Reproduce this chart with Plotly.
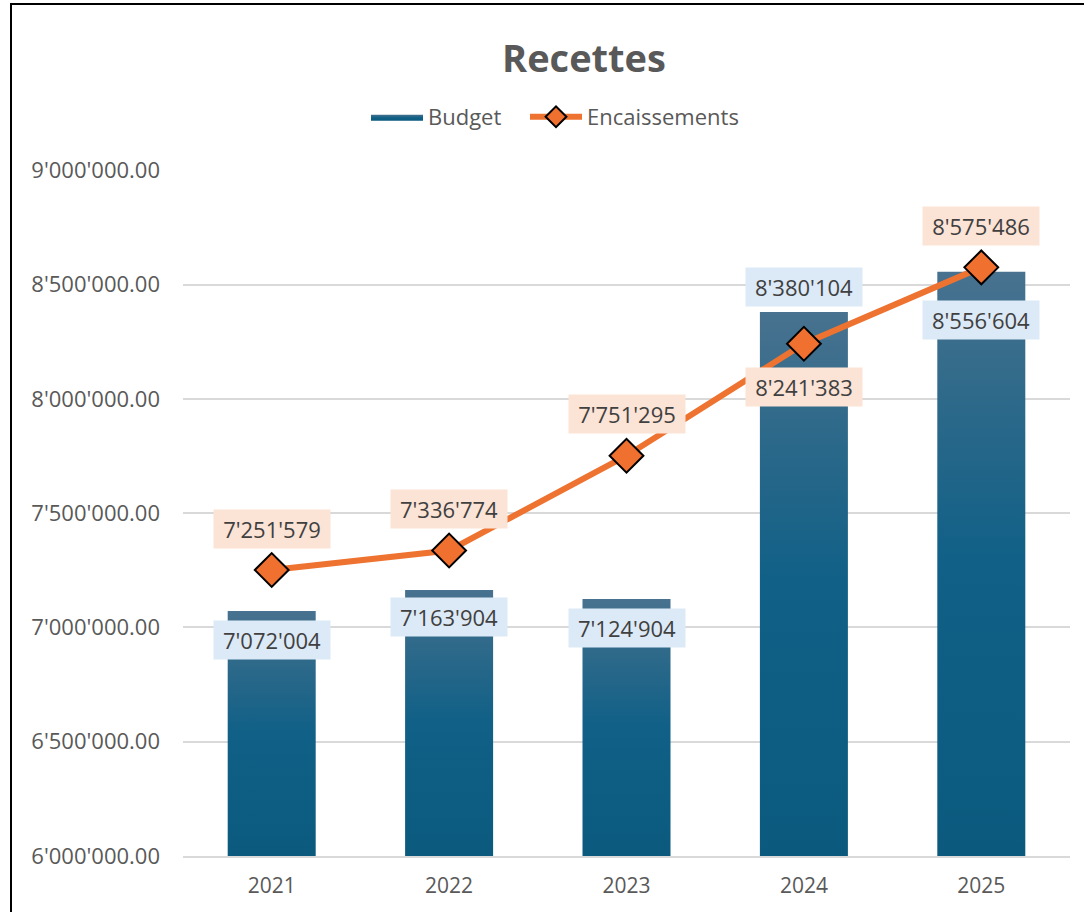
import plotly.graph_objects as go

# data
years = ["2021", "2022", "2023", "2024", "2025"]
budget = [7072004, 7163904, 7124904, 8380104, 8556604]
encaissements = [7251579, 7336774, 7751295, 8241383, 8575486]
y_min = 6000000
y_max = 9000000
y_step = 500000

# label offsets in px (positive = above the point)
budget_label_shift = [-29, -27, -29, 25, -48]
enc_label_shift = [41, 41, 42, -43, 41]

ORANGE = "#ee7330"
FONT = "Open Sans"
bar_scale = [[0, "#0b5a7e"], [0.5, "#106087"], [0.75, "#2a6889"], [1, "#48728f"]]


def fmt(v):
    return f"{v:,}".replace(",", "'")


fig = go.Figure()

# bars drawn as filled shapes so they can carry a vertical gradient
half = 0.248
for i, v in enumerate(budget):
    fig.add_trace(go.Scatter(
        x=[i - half, i + half, i + half, i - half, i - half],
        y=[y_min, y_min, v, v, y_min],
        mode="lines",
        fill="toself",
        line=dict(width=0, color="#0b5a7e"),
        fillgradient=dict(type="vertical", colorscale=bar_scale,
                          start=y_min, stop=v),
        name="Budget",
        legendgroup="budget",
        legend="legend",
        showlegend=(i == 0),
        hoverinfo="skip",
    ))

fig.add_trace(go.Scatter(
    x=list(range(len(years))),
    y=encaissements,
    mode="lines+markers",
    name="Encaissements",
    legend="legend2",
    line=dict(color=ORANGE, width=6),
    marker=dict(symbol="diamond", size=26, color="#f07030",
                line=dict(color="black", width=2)),
))

# data labels
for i in range(len(years)):
    fig.add_annotation(
        x=i, y=budget[i], text=fmt(budget[i]), showarrow=False,
        yshift=budget_label_shift[i], bgcolor="#dce9f6",
        width=116, height=38, borderpad=0,
        font=dict(family=FONT, size=22, color="#404040"),
    )
    fig.add_annotation(
        x=i, y=encaissements[i], text=fmt(encaissements[i]), showarrow=False,
        yshift=enc_label_shift[i], bgcolor="#fbe3d6",
        width=116, height=38, borderpad=0,
        font=dict(family=FONT, size=22, color="#404040"),
    )

# frame around the chart (only left and top visible in the crop)
ml, mr, mt, mb = 183, 14, 170, 56
pw = 1084 - ml - mr
ph = 912 - mt - mb
px_x = lambda p: (p - ml) / pw
px_y = lambda p: (912 - mb - p) / ph
fig.add_shape(type="line", xref="paper", yref="paper",
              x0=px_x(11), x1=px_x(11), y0=px_y(4), y1=px_y(915),
              line=dict(color="black", width=2))
fig.add_shape(type="line", xref="paper", yref="paper",
              x0=px_x(10), x1=px_x(1090), y0=px_y(4), y1=px_y(4),
              line=dict(color="black", width=2))

legend_style = dict(orientation="h", xanchor="left", y=px_y(117),
                    yanchor="middle", font=dict(size=22, color="#595959"),
                    itemwidth=52, bgcolor="rgba(0,0,0,0)")

fig.update_layout(
    width=1084, height=912,
    margin=dict(l=ml, r=mr, t=mt, b=mb),
    paper_bgcolor="white", plot_bgcolor="white",
    separators=".'",
    font=dict(family=FONT, color="#595959"),
    title=dict(text="<b>Recettes</b>", xref="container", x=584 / 1084,
               xanchor="center", yref="container", y=1 - 59 / 912,
               yanchor="middle", font=dict(size=38, color="#595959")),
    legend=dict(x=px_x(366), **legend_style),
    legend2=dict(x=px_x(525), **legend_style),
    showlegend=True,
)

fig.update_xaxes(
    range=[-0.5, len(years) - 0.5],
    tickvals=list(range(len(years))), ticktext=years,
    showgrid=False, zeroline=False,
    showline=True, linecolor="#d9d9d9", linewidth=2,
    tickfont=dict(size=21, color="#595959"), ticks="",
    ticklabelstandoff=10,
)
fig.update_yaxes(
    range=[y_min, y_max + 1500], dtick=y_step, tick0=y_min,
    tickformat=",.2f",
    showgrid=True, gridcolor="#d9d9d9", gridwidth=1.5,
    zeroline=False, showline=False,
    tickfont=dict(size=22, color="#595959"), ticks="",
    ticklabelstandoff=22,
)

# the page has no body margin in the reference
fig.write_html("out.html", config={"displayModeBar": False},
               post_script="document.body.style.margin='0';")
